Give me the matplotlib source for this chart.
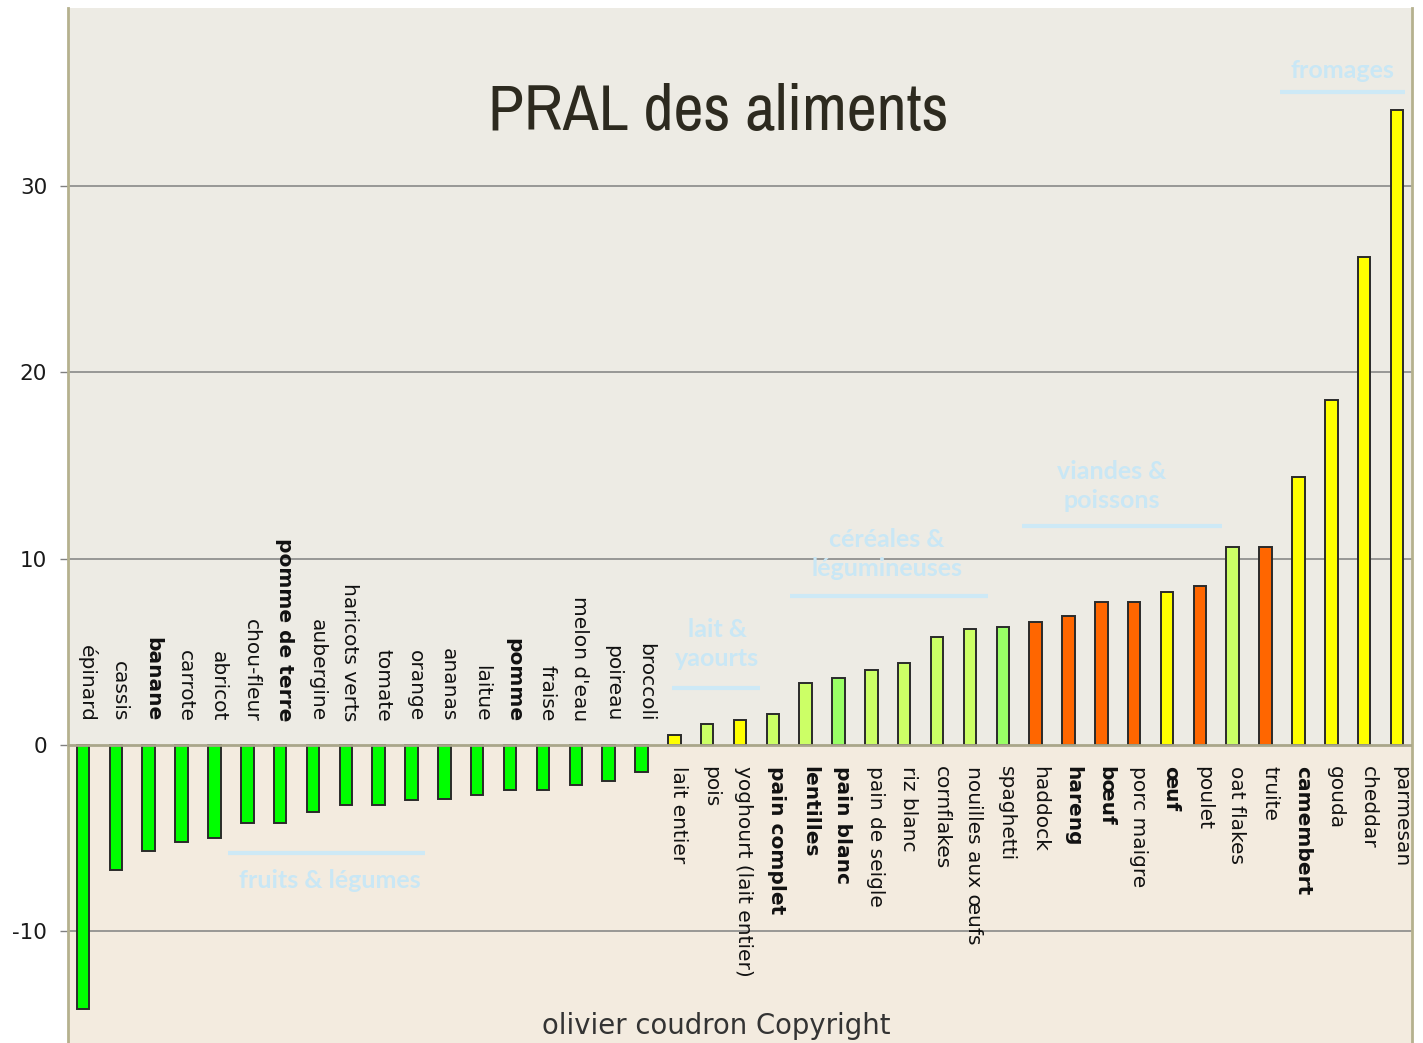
import matplotlib
matplotlib.use("Agg")
import matplotlib.pyplot as plt
from matplotlib import font_manager as fm

foods = ["épinard", "cassis", "banane", "carrote", "abricot", "chou-fleur",
         "pomme de terre", "aubergine", "haricots verts", "tomate", "orange",
         "ananas", "laitue", "pomme", "fraise", "melon d'eau", "poireau", "broccoli",
         "lait entier", "pois", "yoghourt (lait entier)", "pain complet", "lentilles",
         "pain blanc", "pain de seigle", "riz blanc", "cornflakes", "nouilles aux œufs",
         "spaghetti", "haddock", "hareng", "bœuf", "porc maigre", "œuf", "poulet",
         "oat flakes", "truite", "camembert", "gouda", "cheddar", "parmesan"]
pral = [-14.2, -6.7, -5.7, -5.2, -5.0, -4.2, -4.2, -3.6, -3.2, -3.2, -2.95,
        -2.9, -2.7, -2.4, -2.4, -2.15, -1.95, -1.45,
        0.55, 1.15, 1.35, 1.65, 3.3, 3.6, 4.0, 4.4, 5.8, 6.2, 6.35, 6.6, 6.9,
        7.7, 7.7, 8.2, 8.55, 10.6, 10.6, 14.4, 18.5, 26.2, 34.1]
bold_foods = ["banane", "pomme de terre", "pomme", "pain complet", "lentilles",
              "pain blanc", "hareng", "bœuf", "œuf", "camembert"]
bar_colors = ["#00FF00"] * 18 + [
    "#FFFF00", "#CCFF66", "#FFFF00", "#CCFF66", "#CCFF66", "#99FF66", "#CCFF66",
    "#CCFF66", "#CCFF66", "#CCFF66", "#99FF66", "#FF6600", "#FF6600", "#FF6600",
    "#FF6600", "#FFFF00", "#FF6600", "#CCFF66", "#FF6600", "#FFFF00", "#FFFF00",
    "#FFFF00", "#FFFF00"]
yticks = [-10, 0, 10, 20, 30]
ytick_labels = ["-10", "0", "10", "20", "30"]

groups = ["fruits & légumes", "lait &\nyaourts", "céréales &\nlégumineuses",
          "viandes &\npoissons", "fromages"]
group_text_xy = [(7.52, -7.25), (19.3, 5.42), (24.47, 10.25), (31.32, 13.9), (38.33, 36.23)]
group_lines = [((4.41, 10.41), -5.8), ((17.93, 20.6), 3.06), ((21.52, 27.55), 8.0),
               ((28.58, 34.67), 11.76), ((36.44, 40.25), 35.05)]

# pick a narrow/condensed family for the title if one is installed
names = sorted({f.name for f in fm.fontManager.ttflist})
narrow = [n for n in names if "Narrow" in n or "Condensed" in n]
cond_entries = [f for f in fm.fontManager.ttflist
                if str(f.stretch) in ("condensed", "semi-condensed", "extra-condensed",
                                      "ultra-condensed")]
if "Liberation Sans Narrow" in names:
    title_kw = dict(family="Liberation Sans Narrow")
elif narrow:
    title_kw = dict(family=narrow[0])
elif cond_entries:
    title_kw = dict(family=cond_entries[0].name, fontstretch=cond_entries[0].stretch)
else:
    title_kw = dict(family="DejaVu Sans")

lab_font = "DejaVu Sans"

fig = plt.figure(figsize=(14.23, 10.43), dpi=100)
ax = fig.add_axes([68 / 1423, 0.0, (1412 - 68) / 1423, 1 - 8 / 1043])
ax.set_facecolor("#EDEBE4")
ax.set_xlim(-0.457, 40.457)
ax.set_ylim(-16.0, 39.56)
ax.axhspan(-16.0, 0, color="#F3EBDF", zorder=0, lw=0)

for yv in [-10, 10, 20, 30]:
    ax.axhline(yv, color="#808080", lw=1.1, zorder=1)
ax.axhline(0, color="#A9A68A", lw=2, zorder=3)

x = list(range(len(foods)))
ax.bar(x, pral, width=0.38, color=bar_colors, edgecolor="#2A2A2A", linewidth=1.4, zorder=2)

for i, (name, v) in enumerate(zip(foods, pral)):
    w = "bold" if name in bold_foods else "normal"
    if v < 0:
        ax.text(i + 0.12, 1.25, name, rotation=270, ha="center", va="bottom",
                fontsize=14.5, fontweight=w, family=lab_font, color="#111111", zorder=4)
    else:
        ax.text(i + 0.12, -1.15, name, rotation=270, ha="center", va="top",
                fontsize=14.5, fontweight=w, family=lab_font, color="#111111", zorder=4)

for g, (tx, ty), ((x0, x1), ly) in zip(groups, group_text_xy, group_lines):
    ax.text(tx, ty, g, ha="center", va="center", fontsize=18, fontweight="bold",
            family="Lato", color="#C9E7F5", linespacing=1.3, zorder=4)
    ax.plot([x0, x1], [ly, ly], color="#CDE9F6", lw=3, solid_capstyle="butt", zorder=4)

ax.set_xticks([])
ax.set_yticks(yticks)
ax.set_yticklabels(ytick_labels, fontsize=15.5, family=lab_font, color="#1A1A1A")
ax.tick_params(axis="y", length=6, color="#808080", pad=9, width=1)
for s in ["top", "bottom"]:
    ax.spines[s].set_visible(False)
for s in ["left", "right"]:
    ax.spines[s].set_color("#B5B18E")
    ax.spines[s].set_linewidth(2)

title = fig.text(718 / 1423, 1 - 112 / 1043, "PRAL des aliments", ha="center", va="center",
                 fontsize=52, color="#2D2A1F", **title_kw)
footer = fig.text(716 / 1423, 1 - 1026 / 1043, "olivier coudron Copyright", ha="center",
                  va="center", fontsize=18, family=lab_font, color="#333333")

# fit title / footer widths to the reference
fig.canvas.draw()
r = fig.canvas.get_renderer()
tw = title.get_window_extent(r).width
title.set_fontsize(52 * 461 / tw)
fw = footer.get_window_extent(r).width
footer.set_fontsize(18 * 349 / fw)

fig.savefig("out.png", dpi=100)
